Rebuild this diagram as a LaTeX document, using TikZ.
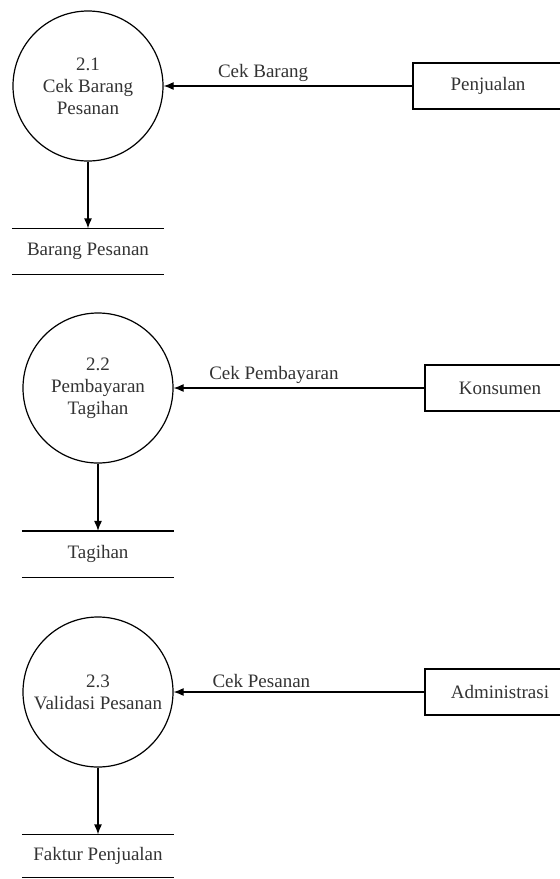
\documentclass[tikz,border=0pt]{standalone}
\usepackage{fontspec}
\setmainfont{Liberation Serif}
\usetikzlibrary{positioning, arrows.meta}

\begin{document}
\begin{tikzpicture}[x=1pt, y=-1pt, line width=1.2pt,
        teks/.style={font=\fontsize{19}{22}\selectfont, text=black!80},
        proses/.style={teks, circle, draw, minimum size=150pt, inner sep=0pt, align=center},
        entitas/.style={teks, rectangle, draw, minimum width=150pt, minimum height=46pt},
        simpan/.style={teks, minimum width=151pt, minimum height=45pt, inner sep=0pt},
        alir/.style={-{Latex[length=10pt, width=8pt]}}]
    \useasboundingbox (0,0) rectangle (560,879);

    % proses
    \node[proses] (p1) at (88, 86) {2.1\\Cek Barang\\Pesanan};
    \node[proses] (p2) at (98, 388) {2.2\\Pembayaran\\Tagihan};
    \node[proses] (p3) at (98, 692) {2.3\\Validasi Pesanan};

    % data store
    \node[simpan] (d1) at (88, 251.5) {Barang Pesanan};
    \node[simpan] (d2) at (98, 554) {Tagihan};
    \node[simpan, minimum height=42pt] (d3) at (98, 856) {Faktur Penjualan};
    \foreach \d in {d1, d2, d3} {
        \draw (\d.north west) -- (\d.north east);
        \draw (\d.south west) -- (\d.south east);
    }

    % entitas luar
    \node[entitas] (e1) at (488, 86) {Penjualan};
    \node[entitas] (e2) at (500, 388) {Konsumen};
    \node[entitas] (e3) at (500, 692) {Administrasi};

    \draw[alir] (e1) -- node[teks, above, pos=0.6] {Cek Barang} (p1);
    \draw[alir] (e2) -- node[teks, above, pos=0.6] {Cek Pembayaran} (p2);
    \draw[alir] (e3) -- node[teks, above, pos=0.65] {Cek Pesanan} (p3);

    \draw[alir] (p1) -- (d1);
    \draw[alir] (p2) -- (d2);
    \draw[alir] (p3) -- (d3);
\end{tikzpicture}
\end{document}
